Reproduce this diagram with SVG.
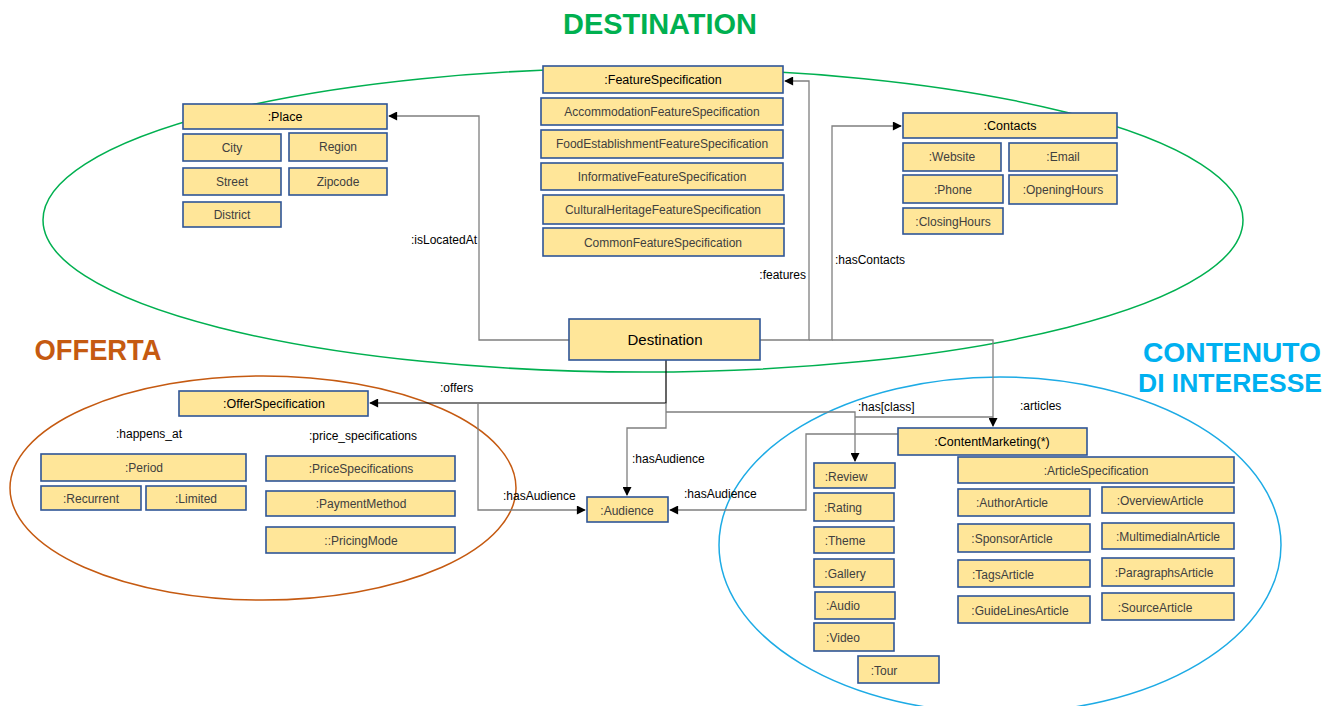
<svg xmlns="http://www.w3.org/2000/svg" width="1330" height="706" viewBox="0 0 1330 706">
<style>
.b{fill:#FFE699;stroke:#2F5597;stroke-width:1.6}
.t{font-family:"Liberation Sans",Arial,sans-serif;font-size:12px;fill:#404040;text-anchor:middle}
.h{font-family:"Liberation Sans",Arial,sans-serif;font-size:12.5px;fill:#000;text-anchor:middle}
.l{font-family:"Liberation Sans",Arial,sans-serif;font-size:12px;fill:#000}
.c{fill:none;stroke:#7F7F7F;stroke-width:1.3}
.k{fill:none;stroke:#000;stroke-width:1.2}
.ti{font-family:"Liberation Sans",Arial,sans-serif;font-weight:bold;font-size:29px}
</style>
<defs>
<marker id="a" viewBox="0 0 10 10" refX="9" refY="5" markerWidth="10" markerHeight="9" markerUnits="userSpaceOnUse" orient="auto">
<path d="M0,0 L10,5 L0,10 z" fill="#000"/>
</marker>
</defs>
<rect width="1330" height="706" fill="#fff"/>

<g id="regions">
<ellipse cx="643" cy="220" rx="600" ry="152" fill="none" stroke="#00B050" stroke-width="1.5"/>
<ellipse cx="263" cy="488" rx="253" ry="112" fill="none" stroke="#C55A11" stroke-width="1.5"/>
<ellipse cx="1000" cy="545" rx="281" ry="168" fill="none" stroke="#1DABE5" stroke-width="1.5"/>
<text class="ti" x="660" y="34" text-anchor="middle" fill="#00B050" textLength="194" lengthAdjust="spacingAndGlyphs">DESTINATION</text>
<text class="ti" x="98" y="360" text-anchor="middle" fill="#C55A11" textLength="127" lengthAdjust="spacingAndGlyphs">OFFERTA</text>
<text class="ti" x="1232" y="362" text-anchor="middle" fill="#00B0F0" style="font-size:27px" textLength="178" lengthAdjust="spacingAndGlyphs">CONTENUTO</text>
<text class="ti" x="1230" y="392" text-anchor="middle" fill="#00B0F0" style="font-size:26px" textLength="184" lengthAdjust="spacingAndGlyphs">DI INTERESSE</text>
</g>

<g id="connectors">
<polyline class="c" points="569,340 479,340 479,116 389,116" marker-end="url(#a)"/>
<polyline class="c" points="760,340 809,340 809,81 785,81" marker-end="url(#a)"/>
<polyline class="c" points="809,340 832,340 832,126 901,126" marker-end="url(#a)"/>
<polyline class="c" points="832,340 993,340 993,426" marker-end="url(#a)"/>
<polyline class="k" points="666,360 666,403 370,403" marker-end="url(#a)"/>
<polyline class="c" points="666,403 666,428 627,428 627,495" marker-end="url(#a)"/>
<polyline class="c" points="666,412 855,412 855,461" marker-end="url(#a)"/>
<polyline class="c" points="855,417 993,417"/>
<polyline class="c" points="478,403 478,510 585,510" marker-end="url(#a)"/>
<polyline class="c" points="898,434 806,434 806,510 670,510" marker-end="url(#a)"/>
<text class="l" x="477" y="244" text-anchor="end">:isLocatedAt</text>
<text class="l" x="806" y="279" text-anchor="end">:features</text>
<text class="l" x="835" y="264">:hasContacts</text>
<text class="l" x="440" y="392">:offers</text>
<text class="l" x="632" y="463">:hasAudience</text>
<text class="l" x="503" y="500">:hasAudience</text>
<text class="l" x="684" y="498">:hasAudience</text>
<text class="l" x="858" y="411">:has[class]</text>
<text class="l" x="1020" y="410">:articles</text>
<text class="l" x="149" y="438" text-anchor="middle">:happens_at</text>
<text class="l" x="363" y="440" text-anchor="middle">:price_specifications</text>
</g>

<g id="destination"><rect class="b" x="569" y="319" width="191" height="41"/><text class="h" x="665" y="345" style="font-size:15px">Destination</text></g>

<g id="place"><rect class="b" x="183" y="104" width="204" height="25"/><text class="h" x="285" y="121">:Place</text></g>
<g id="city"><rect class="b" x="183" y="134" width="98" height="27"/><text class="t" x="232" y="152">City</text></g>
<g id="region"><rect class="b" x="289" y="133" width="98" height="28"/><text class="t" x="338" y="151">Region</text></g>
<g id="street"><rect class="b" x="183" y="168" width="98" height="27"/><text class="t" x="232" y="186">Street</text></g>
<g id="zipcode"><rect class="b" x="289" y="168" width="98" height="27"/><text class="t" x="338" y="186">Zipcode</text></g>
<g id="district"><rect class="b" x="183" y="202" width="98" height="25"/><text class="t" x="232" y="219">District</text></g>

<g id="featurespec"><rect class="b" x="543" y="66" width="240" height="27"/><text class="h" x="663" y="84">:FeatureSpecification</text></g>
<g id="accommodation"><rect class="b" x="541" y="98" width="242" height="27"/><text class="t" x="662" y="116">AccommodationFeatureSpecification</text></g>
<g id="food"><rect class="b" x="541" y="130" width="242" height="28"/><text class="t" x="662" y="148">FoodEstablishmentFeatureSpecification</text></g>
<g id="informative"><rect class="b" x="541" y="163" width="242" height="27"/><text class="t" x="662" y="181">InformativeFeatureSpecification</text></g>
<g id="cultural"><rect class="b" x="543" y="195" width="241" height="29"/><text class="t" x="663" y="214">CulturalHeritageFeatureSpecification</text></g>
<g id="common"><rect class="b" x="543" y="228" width="241" height="28"/><text class="t" x="663" y="247">CommonFeatureSpecification</text></g>

<g id="contacts"><rect class="b" x="903" y="113" width="214" height="25"/><text class="h" x="1010" y="130">:Contacts</text></g>
<g id="website"><rect class="b" x="903" y="143" width="98" height="28"/><text class="t" x="952" y="161">:Website</text></g>
<g id="email"><rect class="b" x="1009" y="143" width="108" height="28"/><text class="t" x="1063" y="161">:Email</text></g>
<g id="phone"><rect class="b" x="903" y="175" width="100" height="28"/><text class="t" x="953" y="194">:Phone</text></g>
<g id="openinghours"><rect class="b" x="1009" y="175" width="108" height="29"/><text class="t" x="1063" y="194">:OpeningHours</text></g>
<g id="closinghours"><rect class="b" x="903" y="208" width="100" height="26"/><text class="t" x="953" y="226">:ClosingHours</text></g>

<g id="offerspec"><rect class="b" x="179" y="391" width="189" height="25"/><text class="h" x="274" y="408">:OfferSpecification</text></g>
<g id="period"><rect class="b" x="41" y="454" width="205" height="27"/><text class="t" x="144" y="472">:Period</text></g>
<g id="recurrent"><rect class="b" x="41" y="486" width="100" height="24"/><text class="t" x="91" y="503">:Recurrent</text></g>
<g id="limited"><rect class="b" x="146" y="486" width="100" height="24"/><text class="t" x="196" y="503">:Limited</text></g>
<g id="pricespecs"><rect class="b" x="266" y="456" width="189" height="25"/><text class="t" x="361" y="473">:PriceSpecifications</text></g>
<g id="paymentmethod"><rect class="b" x="266" y="491" width="189" height="25"/><text class="t" x="361" y="508">:PaymentMethod</text></g>
<g id="pricingmode"><rect class="b" x="266" y="527" width="189" height="26"/><text class="t" x="361" y="545">::PricingMode</text></g>

<g id="audience"><rect class="b" x="587" y="497" width="81" height="25"/><text class="t" x="627" y="515">:Audience</text></g>

<g id="contentmarketing"><rect class="b" x="898" y="428" width="189" height="27"/><text class="h" x="992" y="446">:ContentMarketing(*)</text></g>
<g id="review"><rect class="b" x="814" y="463" width="81" height="25"/><text class="t" x="846" y="481">:Review</text></g>
<g id="rating"><rect class="b" x="814" y="493" width="80" height="28"/><text class="t" x="843" y="512">:Rating</text></g>
<g id="theme"><rect class="b" x="814" y="527" width="80" height="26"/><text class="t" x="845" y="545">:Theme</text></g>
<g id="gallery"><rect class="b" x="814" y="559" width="80" height="28"/><text class="t" x="845" y="578">:Gallery</text></g>
<g id="audio"><rect class="b" x="815" y="592" width="80" height="27"/><text class="t" x="843" y="610">:Audio</text></g>
<g id="video"><rect class="b" x="814" y="623" width="80" height="28"/><text class="t" x="843" y="642">:Video</text></g>
<g id="tour"><rect class="b" x="858" y="656" width="81" height="27"/><text class="t" x="884" y="675">:Tour</text></g>
<g id="articlespec"><rect class="b" x="958" y="457" width="276" height="26"/><text class="t" x="1096" y="475">:ArticleSpecification</text></g>
<g id="authorarticle"><rect class="b" x="958" y="489" width="132" height="27"/><text class="t" x="1012" y="507">:AuthorArticle</text></g>
<g id="overviewarticle"><rect class="b" x="1102" y="487" width="132" height="26"/><text class="t" x="1160" y="505">:OverviewArticle</text></g>
<g id="sponsorarticle"><rect class="b" x="958" y="524" width="132" height="28"/><text class="t" x="1012" y="543">:SponsorArticle</text></g>
<g id="multimedialnarticle"><rect class="b" x="1102" y="523" width="132" height="26"/><text class="t" x="1168" y="541">:MultimedialnArticle</text></g>
<g id="tagsarticle"><rect class="b" x="958" y="560" width="132" height="27"/><text class="t" x="1003" y="579">:TagsArticle</text></g>
<g id="paragraphsarticle"><rect class="b" x="1102" y="558" width="132" height="28"/><text class="t" x="1164" y="577">:ParagraphsArticle</text></g>
<g id="guidelinesarticle"><rect class="b" x="958" y="596" width="132" height="27"/><text class="t" x="1020" y="615">:GuideLinesArticle</text></g>
<g id="sourcearticle"><rect class="b" x="1102" y="593" width="132" height="27"/><text class="t" x="1155" y="612">:SourceArticle</text></g>
</svg>
